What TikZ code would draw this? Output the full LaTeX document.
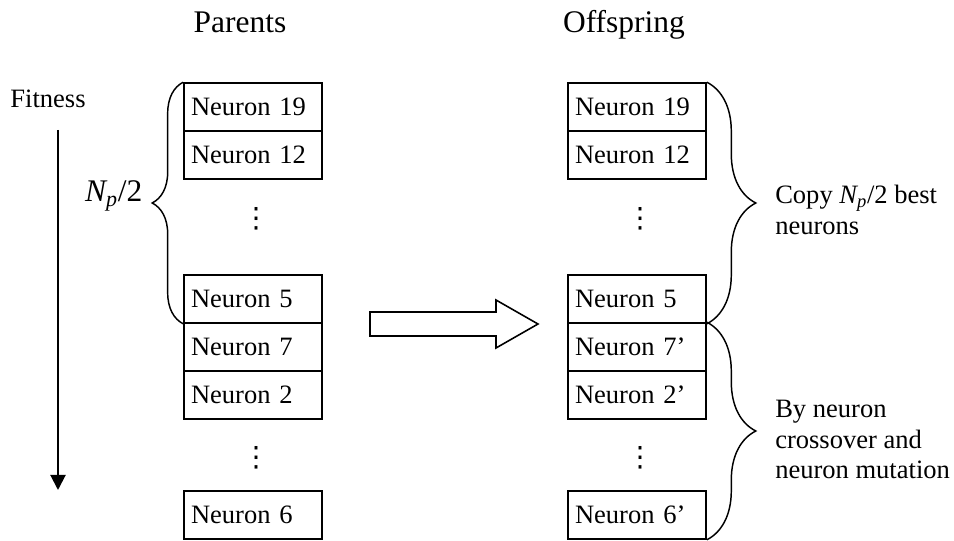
\documentclass[tikz,border=0pt]{standalone}
\usepackage{fontspec}
\setmainfont{Liberation Serif}
\newfontfamily\dotsfont{DejaVu Sans}
\usetikzlibrary{arrows.meta,decorations.pathreplacing}

\begin{document}
\begin{tikzpicture}[x=0.75pt,y=-0.75pt,
  body font/.style={font=\fontsize{19.9}{23}\selectfont},
  neuron box/.style={draw,line width=1.2pt,body font,minimum width=103.5pt,minimum height=36pt,
    inner xsep=5.25pt,inner ysep=0pt,text width=93pt,align=left},
  dots node/.style={font=\dotsfont\fontsize{21}{23}\selectfont,inner sep=0pt},
  head label/.style={font=\fontsize{23.6}{28}\selectfont},
  side label/.style={body font,align=left,anchor=north west,inner sep=0pt},
  brace line/.style={decorate,line width=1.1pt},
  hollow arrow/.style={draw,line width=1.2pt,line join=miter}]
  \useasboundingbox (0,0) rectangle (954,541);

  % titles
  \node[head label,anchor=base] (parents) at (240,33) {Parents};
  \node[head label,anchor=base] (offspring) at (624,33) {Offspring};
  \node[body font,anchor=base] (fitness) at (48,108) {Fitness};

  % parents column
  \node[neuron box] (p19) at (253,107) {Neuron 19};
  \node[neuron box] (p12) at (253,155) {Neuron 12};
  \node[dots node] (pdotsa) at (256,219) {⋮};
  \node[neuron box] (p5) at (253,299) {Neuron 5};
  \node[neuron box] (p7) at (253,347) {Neuron 7};
  \node[neuron box] (p2) at (253,395) {Neuron 2};
  \node[dots node] (pdotsb) at (256,458) {⋮};
  \node[neuron box] (p6) at (253,515) {Neuron 6};

  % offspring column
  \node[neuron box] (o19) at (637,107) {Neuron 19};
  \node[neuron box] (o12) at (637,155) {Neuron 12};
  \node[dots node] (odotsa) at (640,219) {⋮};
  \node[neuron box] (o5) at (637,299) {Neuron 5};
  \node[neuron box] (o7) at (637,347) {Neuron 7'};
  \node[neuron box] (o2) at (637,395) {Neuron 2'};
  \node[dots node] (odotsb) at (640,458) {⋮};
  \node[neuron box] (o6) at (637,515) {Neuron 6'};

  % fitness arrow
  \coordinate (fittop) at (58,130);
  \coordinate (fitbottom) at (58,490);
  \draw[line width=1.5pt,-{Triangle[width=11.25pt,length=11.25pt]}] (fittop) -- (fitbottom);

  % braces
  \draw[brace line,decoration={brace,amplitude=23.25pt}] (p5.south west) -- (p19.north west);
  \node[head label,anchor=base east] (half) at (147,202) {\textit{N\textsubscript{p}}/2};
  \draw[brace line,decoration={brace,amplitude=36.75pt}] (o19.north east) -- (o5.south east);
  \draw[brace line,decoration={brace,amplitude=36.75pt}] (o7.north east) -- (o6.south east);
  \node[side label] (copytext) at (775,185) {Copy \textit{N\textsubscript{p}}/2 best\\neurons};
  \node[side label] (bytext) at (775,400) {By neuron\\crossover and\\neuron mutation};

  % hollow arrow
  \coordinate (tail) at (370,324);
  \coordinate (tip) at (538,324);
  \draw[hollow arrow] (tail) ++(0,-12) -- ++(126,0) -- ++(0,-12) -- (tip)
    -- ++(-42,24) -- ++(0,-12) -- ++(-126,0) -- cycle;
\end{tikzpicture}
\end{document}
